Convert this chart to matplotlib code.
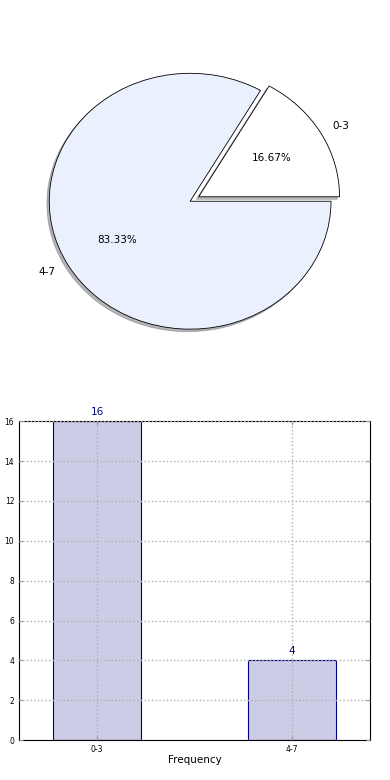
import matplotlib
matplotlib.use("Agg")
import matplotlib.pyplot as plt

groups = ["0-3", "4-7"]
pie_values = [4, 20]
bar_values = [16, 4]
pie_colors = ["#ffffff", "#eaf0fe"]
explode = [0.07, 0]

fig = plt.figure(figsize=(3.9, 7.8), dpi=100)

# pie on top, stretched to fill its axes
ax1 = fig.add_axes([0.036, 0.537, 0.903, 0.41])
wedges, texts, autotexts = ax1.pie(pie_values, labels=groups, colors=pie_colors,
                                   explode=explode, autopct="%.2f%%",
                                   shadow={"ox": -0.012, "oy": -0.014, "shade": 0.55},
                                   wedgeprops={"edgecolor": "black", "linewidth": 0.6},
                                   textprops={"fontsize": 7.5})
ax1.set_aspect("auto")
ax1.set_xlim(-1.25, 1.25)
ax1.set_ylim(-1.25, 1.25)

# bar chart below
ax2 = fig.add_axes([0.049, 0.051, 0.9, 0.409])
x = range(len(groups))
bars = ax2.bar(x, bar_values, width=0.45, color="#ccccE6", edgecolor="navy", linewidth=0.8,
               zorder=1)
for xi, v in zip(x, bar_values):
    ax2.text(xi, v + 0.2, str(v), ha="center", va="bottom", color="navy", fontsize=7.5,
             zorder=5)
ax2.set_xlim(-0.4, 1.4)
ax2.set_ylim(0, 16)
ax2.set_yticks(range(0, 17, 2))
ax2.set_xticks(list(x))
ax2.set_xticklabels(groups)
ax2.tick_params(labelsize=5.5, direction="in", top=True, right=True, length=3, color="#999999")
ax2.grid(True, linestyle=":", color="#b0b0b0", linewidth=1, zorder=2)
ax2.set_axisbelow(False)
ax2.set_xlabel("Frequency", fontsize=7.5, labelpad=1)
ax2.set_ylabel("No of Students", fontsize=7.5)
ax2.yaxis.set_label_coords(-0.06, 0.5)
for s in ax2.spines.values():
    s.set_linewidth(0.8)

fig.savefig("out.png", dpi=100)
